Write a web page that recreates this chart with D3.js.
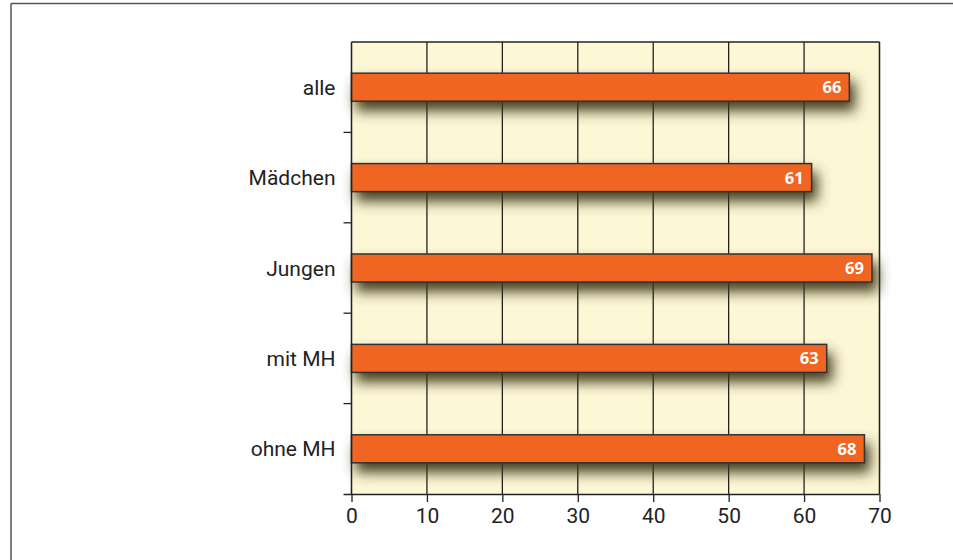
<!DOCTYPE html>
<html><head><meta charset="utf-8">
<script src="https://cdn.jsdelivr.net/npm/d3@7"></script>
<style>body{margin:0;background:#fff}svg{display:block}</style>
</head><body>
<svg id="c" width="953" height="560"></svg>
<script>
const categories = ["alle", "Mädchen", "Jungen", "mit MH", "ohne MH"];
const values = [66, 61, 69, 63, 68];
const xTicks = [0, 10, 20, 30, 40, 50, 60, 70];

const svg = d3.select("#c");
const m = {l: 351.5, t: 42, r: 879.5, b: 494};
const x = d3.scaleLinear().domain([0, 70]).range([m.l, m.r]);
const y = d3.scaleBand().domain(categories).range([m.t, m.b]).paddingInner(0.69).paddingOuter(0.345);
const band = d3.scaleBand().domain(categories).range([m.t, m.b]);

const defs = svg.append("defs");
const f = defs.append("filter").attr("id", "sh").attr("x", "-10%").attr("y", "-60%").attr("width", "130%").attr("height", "280%");
f.append("feDropShadow").attr("dx", 5).attr("dy", 9).attr("stdDeviation", 6.5)
  .attr("flood-color", "#3d3616").attr("flood-opacity", 0.95);

// outer frame
svg.append("line").attr("x1", 11).attr("x2", 953).attr("y1", 3.5).attr("y2", 3.5).attr("stroke", "#555").attr("stroke-width", 1.5);
svg.append("line").attr("x1", 11).attr("x2", 11).attr("y1", 3.5).attr("y2", 560).attr("stroke", "#555").attr("stroke-width", 1.5);

// plot background
svg.append("rect").attr("x", m.l).attr("y", m.t).attr("width", m.r - m.l).attr("height", m.b - m.t).attr("fill", "#fdf7d6");

// grid
svg.append("g").selectAll("line").data(xTicks).join("line")
  .attr("x1", d => x(d)).attr("x2", d => x(d)).attr("y1", m.t).attr("y2", m.b)
  .attr("stroke", "#222").attr("stroke-width", 1.3);
svg.append("line").attr("x1", m.l).attr("x2", m.r).attr("y1", m.t).attr("y2", m.t).attr("stroke", "#222").attr("stroke-width", 1.3);

// bars
const g = svg.append("g");
g.selectAll("rect").data(values).join("rect")
  .attr("x", x(0)).attr("y", (d, i) => y(categories[i]))
  .attr("width", d => x(d) - x(0)).attr("height", y.bandwidth())
  .attr("fill", "#f06522").attr("stroke", "#333").attr("stroke-width", 1.5)
  .attr("filter", "url(#sh)");

g.selectAll("text").data(values).join("text")
  .attr("x", d => x(d) - 8).attr("y", (d, i) => y(categories[i]) + y.bandwidth() / 2)
  .attr("dy", "0.36em").attr("text-anchor", "end")
  .attr("fill", "#fff").attr("font-family", "Open Sans").attr("font-weight", "bold").attr("font-size", 16.5)
  .text(d => d);

// x axis
const xa = svg.append("g").attr("transform", `translate(0,${m.b})`)
  .call(d3.axisBottom(x).tickValues(xTicks).tickSize(8).tickPadding(6).tickSizeOuter(0));
xa.select(".domain").attr("d", `M${m.l - 8},0.5H${m.r}`).attr("stroke", "#222").attr("stroke-width", 1.3);
xa.selectAll(".tick line").attr("stroke", "#222").attr("stroke-width", 1.3);
xa.selectAll("text").attr("font-family", "Roboto").attr("font-size", 21).attr("fill", "#222");

// y axis
const ya = svg.append("g").attr("transform", `translate(${m.l},0)`);
ya.append("line").attr("x1", 0).attr("x2", 0).attr("y1", m.t).attr("y2", m.b).attr("stroke", "#222").attr("stroke-width", 1.3);
ya.selectAll("line.t").data(categories.slice(1)).join("line").attr("class", "t")
  .attr("x1", -8).attr("x2", 0).attr("y1", d => band(d)).attr("y2", d => band(d))
  .attr("stroke", "#222").attr("stroke-width", 1.3);
ya.selectAll("text").data(categories).join("text")
  .attr("x", -16).attr("y", d => band(d) + band.bandwidth() / 2).attr("dy", "0.36em")
  .attr("text-anchor", "end").attr("font-family", "Roboto").attr("font-size", 21).attr("fill", "#222")
  .text(d => d);

// right border
svg.append("line").attr("x1", m.r).attr("x2", m.r).attr("y1", m.t).attr("y2", m.b).attr("stroke", "#222").attr("stroke-width", 1.3);
</script>
</body></html>
